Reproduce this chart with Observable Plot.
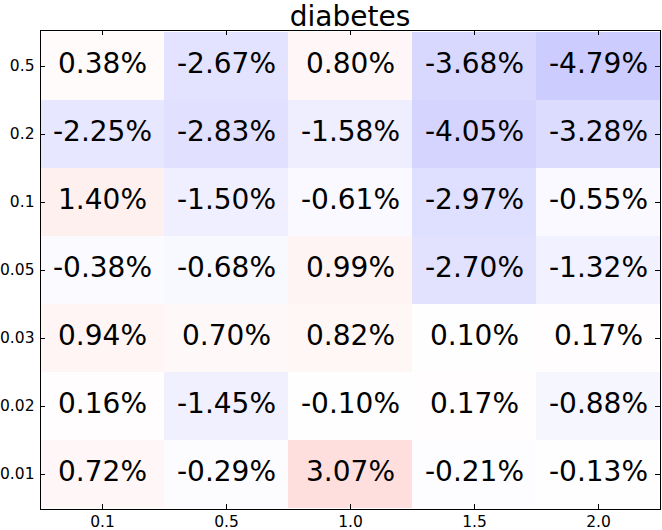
<!DOCTYPE html>
<html>
<head>
<meta charset="utf-8">
<script src="https://cdn.jsdelivr.net/npm/d3@7"></script>
<script src="https://cdn.jsdelivr.net/npm/@observablehq/plot@0.6"></script>
<style>
  body { margin: 0; background: #fff; }
  #wrap { position: relative; width: 662px; height: 530px; font-family: "DejaVu Sans", sans-serif; }
  #title { position: absolute; top: 0; left: 40px; width: 620px; text-align: center; font-size: 28px; line-height: 33px; color: #000; }
  #chart { position: absolute; top: 30px; left: 0; }
</style>
</head>
<body>
<div id="wrap">
  <div id="chart"></div>
  <div id="title">diabetes</div>
</div>
<script>
const columns = ["0.1", "0.5", "1.0", "1.5", "2.0"];
const rows = ["0.5", "0.2", "0.1", "0.05", "0.03", "0.02", "0.01"];
const row_0_5  = [0.38, -2.67, 0.80, -3.68, -4.79];
const row_0_2  = [-2.25, -2.83, -1.58, -4.05, -3.28];
const row_0_1  = [1.40, -1.50, -0.61, -2.97, -0.55];
const row_0_05 = [-0.38, -0.68, 0.99, -2.70, -1.32];
const row_0_03 = [0.94, 0.70, 0.82, 0.10, 0.17];
const row_0_02 = [0.16, -1.45, -0.10, 0.17, -0.88];
const row_0_01 = [0.72, -0.29, 3.07, -0.21, -0.13];
const rowValues = [row_0_5, row_0_2, row_0_1, row_0_05, row_0_03, row_0_02, row_0_01];

const data = [];
rows.forEach((r, i) => columns.forEach((c, j) => data.push({x: c, y: r, v: rowValues[i][j]})));

const W = 662, H = 500;
const mL = 40, mR = 2, mT = 0, mB = 21;
const innerH = H - mT - mB, innerW = W - mL - mR;
const tick = 5;

const chart = Plot.plot({
  width: W, height: H,
  marginLeft: mL, marginRight: mR, marginTop: mT, marginBottom: mB,
  style: {fontFamily: "DejaVu Sans, sans-serif", fontSize: "15.5px", color: "#000", background: "#fff"},
  x: {type: "band", domain: columns, padding: 0, label: null},
  y: {type: "band", domain: rows, padding: 0, label: null},
  color: {type: "linear", domain: [-24, 0, 24], range: ["#0000ff", "#ffffff", "#ff0000"], clamp: true},
  marks: [
    Plot.cell(data, {x: "x", y: "y", fill: "v", inset: 0}),
    Plot.text(data, {x: "x", y: "y", text: d => d.v.toFixed(2) + "%", fontSize: 28, fill: "#000", dy: -2.5}),
    Plot.ruleX(columns, {x: d => d, insetBottom: innerH - tick, stroke: "#000"}),
    Plot.ruleX(columns, {x: d => d, insetTop: innerH - tick, stroke: "#000"}),
    Plot.ruleY(rows, {y: d => d, insetRight: innerW - tick, stroke: "#000"}),
    Plot.ruleY(rows, {y: d => d, insetLeft: innerW - tick, stroke: "#000"}),
    Plot.axisX({anchor: "bottom", tickSize: 0, tickPadding: 6, label: null}),
    Plot.axisY({anchor: "left", tickSize: 0, tickPadding: 6, label: null}),
    Plot.frame({stroke: "#000", strokeWidth: 1})
  ]
});
document.getElementById("chart").appendChild(chart);
</script>
</body>
</html>
